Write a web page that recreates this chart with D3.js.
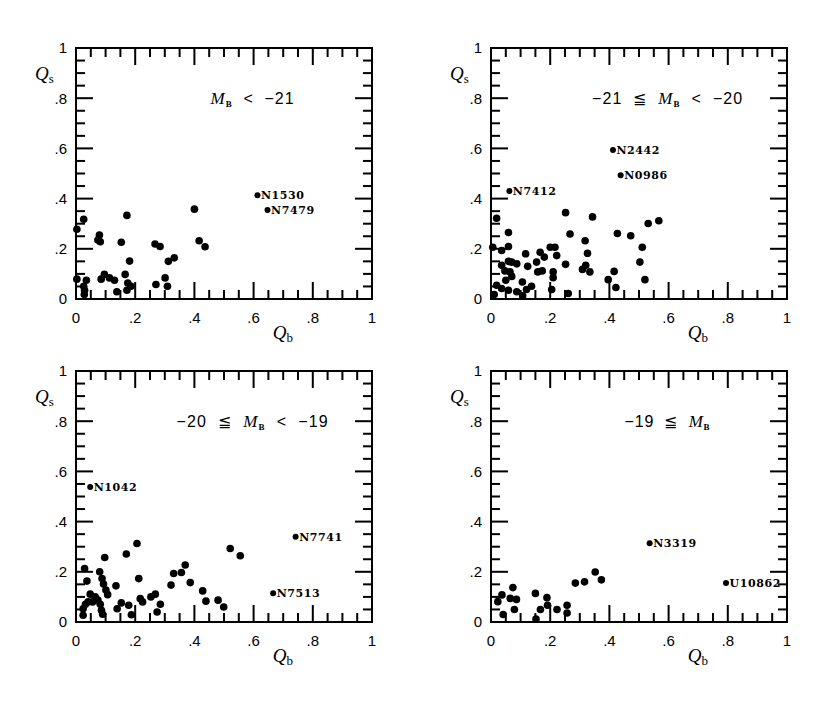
<!DOCTYPE html>
<html>
<head>
<meta charset="utf-8">
<script src="https://cdn.jsdelivr.net/npm/d3@7"></script>
</head>
<body>
<script>
'use strict';

// Q_b, Q_s pairs, brightest bin first
const bin1Points = [
    [0.003, 0.278], [0.026, 0.318], [0.003, 0.079], [0.035, 0.075], [0.026, 0.051], [0.029, 0.035],
    [0.028, 0.018], [0.079, 0.255], [0.074, 0.235], [0.082, 0.228], [0.085, 0.079], [0.096, 0.098],
    [0.113, 0.084], [0.130, 0.075], [0.138, 0.029], [0.153, 0.226], [0.172, 0.333], [0.181, 0.151],
    [0.166, 0.098], [0.175, 0.064], [0.186, 0.051], [0.172, 0.035], [0.267, 0.219], [0.284, 0.209],
    [0.270, 0.058], [0.301, 0.084], [0.309, 0.051], [0.312, 0.150], [0.332, 0.164], [0.400, 0.358],
    [0.416, 0.232], [0.436, 0.208]
];
const bin2Points = [
    [0.019, 0.322], [0.059, 0.265], [0.006, 0.206], [0.059, 0.209], [0.036, 0.193], [0.036, 0.134],
    [0.059, 0.150], [0.070, 0.147], [0.087, 0.140], [0.047, 0.112], [0.064, 0.108], [0.070, 0.090],
    [0.050, 0.075], [0.019, 0.055], [0.036, 0.042], [0.059, 0.035], [0.011, 0.018], [0.087, 0.029],
    [0.106, 0.068], [0.107, 0.013], [0.120, 0.038], [0.137, 0.051], [0.117, 0.180], [0.124, 0.130],
    [0.154, 0.147], [0.166, 0.186], [0.180, 0.167], [0.158, 0.108], [0.173, 0.112], [0.200, 0.206],
    [0.216, 0.206], [0.222, 0.173], [0.210, 0.108], [0.210, 0.085], [0.205, 0.038], [0.252, 0.344],
    [0.267, 0.259], [0.252, 0.138], [0.261, 0.022], [0.318, 0.232], [0.326, 0.182], [0.309, 0.118],
    [0.320, 0.134], [0.334, 0.108], [0.343, 0.327], [0.396, 0.077], [0.416, 0.110], [0.422, 0.046],
    [0.427, 0.261], [0.472, 0.252], [0.511, 0.206], [0.503, 0.147], [0.520, 0.077], [0.531, 0.301],
    [0.567, 0.312]
];
const bin3Points = [
    [0.029, 0.213], [0.037, 0.163], [0.024, 0.053], [0.024, 0.027], [0.032, 0.071], [0.041, 0.080],
    [0.048, 0.111], [0.056, 0.080], [0.065, 0.100], [0.074, 0.087], [0.082, 0.071], [0.086, 0.047],
    [0.090, 0.031], [0.080, 0.200], [0.088, 0.173], [0.093, 0.151], [0.101, 0.127], [0.107, 0.109],
    [0.097, 0.257], [0.135, 0.144], [0.139, 0.053], [0.153, 0.076], [0.178, 0.067], [0.187, 0.029],
    [0.170, 0.271], [0.206, 0.313], [0.212, 0.173], [0.217, 0.093], [0.225, 0.080], [0.253, 0.100],
    [0.268, 0.111], [0.285, 0.071], [0.274, 0.040], [0.321, 0.147], [0.330, 0.193], [0.356, 0.197],
    [0.369, 0.227], [0.386, 0.157], [0.428, 0.124], [0.439, 0.083], [0.480, 0.087], [0.499, 0.060],
    [0.521, 0.293], [0.555, 0.264]
];
const bin4Points = [
    [0.023, 0.081], [0.037, 0.108], [0.041, 0.030], [0.065, 0.094], [0.074, 0.137], [0.079, 0.050],
    [0.086, 0.090], [0.150, 0.114], [0.152, 0.012], [0.167, 0.050], [0.189, 0.097], [0.191, 0.067],
    [0.223, 0.050], [0.257, 0.067], [0.257, 0.036], [0.285, 0.155], [0.316, 0.160], [0.352, 0.199],
    [0.373, 0.168]
];

// named galaxies: [Q_b, Q_s, name]
const bin1Named = [[0.613, 0.413, "N1530"], [0.647, 0.355, "N7479"]];
const bin2Named = [[0.412, 0.594, "N2442"], [0.438, 0.493, "N0986"], [0.062, 0.430, "N7412"]];
const bin3Named = [[0.048, 0.538, "N1042"], [0.742, 0.340, "N7741"], [0.666, 0.115, "N7513"]];
const bin4Named = [[0.536, 0.314, "N3319"], [0.794, 0.155, "U10862"]];

// magnitude bin captions, text before and after "M_B"
const binBefore = ["", "\u221221  \u2266  ", "\u221220  \u2266  ", "\u221219  \u2266  "];
const binAfter = ["  <  \u221221", "  <  \u221220", "  <  \u221219", ""];

const tickValues = [0, 0.2, 0.4, 0.6, 0.8, 1];
const tickLabels = ["0", ".2", ".4", ".6", ".8", "1"];
const minorValues = [0.05, 0.1, 0.15, 0.25, 0.3, 0.35, 0.45, 0.5, 0.55, 0.65, 0.7, 0.75, 0.85, 0.9, 0.95];

(function () {
    const W = 296;
    const H = 251;
    // body keeps its default 8px margin, so panel origins are shifted back by 8
    const origins = [[68, 40], [483, 40], [68, 363], [483, 363]];
    const captionWidth = [83, 150, 151, 85];

    const points = [bin1Points, bin2Points, bin3Points, bin4Points];
    const named = [bin1Named, bin2Named, bin3Named, bin4Named];

    const svg = d3.select("body").append("svg")
        .attr("width", 822)
        .attr("height", 706);

    const x = d3.scaleLinear().domain([0, 1]).range([0, W]);
    const y = d3.scaleLinear().domain([0, 1]).range([H, 0]);

    const ticks = tickValues.map(function (v) { return { v: v, len: 17 }; })
        .concat(minorValues.map(function (v) { return { v: v, len: 9 }; }));

    origins.forEach(function (o, i) {
        const g = svg.append("g").attr("transform", "translate(" + o[0] + "," + o[1] + ")");

        // frame and inward ticks on all four sides, as filled bars
        g.append("rect").attr("width", W).attr("height", H)
            .attr("fill", "none").attr("stroke", "#000").attr("stroke-width", 2);
        g.selectAll("rect.tb").data(ticks).enter().append("rect").attr("class", "tb")
            .attr("x", function (d) { return x(d.v) - 1; })
            .attr("y", function (d) { return H - d.len; })
            .attr("width", 2).attr("height", function (d) { return d.len; })
            .attr("fill", "black");
        g.selectAll("rect.tt").data(ticks).enter().append("rect").attr("class", "tt")
            .attr("x", function (d) { return x(d.v) - 1; })
            .attr("y", 0)
            .attr("width", 2).attr("height", function (d) { return d.len; })
            .attr("fill", "black");
        g.selectAll("rect.tl").data(ticks).enter().append("rect").attr("class", "tl")
            .attr("x", 0)
            .attr("y", function (d) { return y(d.v) - 1; })
            .attr("width", function (d) { return d.len; }).attr("height", 2)
            .attr("fill", "black");
        g.selectAll("rect.tr").data(ticks).enter().append("rect").attr("class", "tr")
            .attr("x", function (d) { return W - d.len; })
            .attr("y", function (d) { return y(d.v) - 1; })
            .attr("width", function (d) { return d.len; }).attr("height", 2)
            .attr("fill", "black");

        // tick labels
        g.selectAll("text.xl").data(tickValues).enter().append("text").attr("class", "xl")
            .attr("x", function (d) { return x(d); })
            .attr("y", H + 24)
            .attr("text-anchor", "middle")
            .style("font-family", "'Liberation Sans', sans-serif")
            .style("font-size", "15px")
            .text(function (d, j) { return tickLabels[j]; });
        g.selectAll("text.yl").data(tickValues).enter().append("text").attr("class", "yl")
            .attr("x", -9)
            .attr("y", function (d) { return y(d); })
            .attr("dy", "0.36em")
            .attr("text-anchor", "end")
            .style("font-family", "'Liberation Sans', sans-serif")
            .style("font-size", "15px")
            .text(function (d, j) { return tickLabels[j]; });

        // dots
        g.selectAll("circle.pt")
            .data(points[i])
            .enter()
            .append("circle")
            .attr("class", "pt")
            .attr("cx", function (d) { return x(d[0]); })
            .attr("cy", function (d) { return y(d[1]); })
            .attr("r", 3.8)
            .attr("fill", "#000");

        const ng = g.selectAll("g.named")
            .data(named[i])
            .enter()
            .append("g")
            .attr("class", "named")
            .attr("transform", function (d) { return "translate(" + x(d[0]) + "," + y(d[1]) + ")"; });
        ng.append("circle").attr("r", 3).attr("fill", "#000");
        ng.append("text")
            .attr("x", 3.5)
            .attr("dy", "0.36em")
            .style("font-family", "'DejaVu Serif', serif")
            .style("font-size", "11px")
            .style("font-weight", "bold")
            .style("letter-spacing", "0.6px")
            .text(function (d) { return d[2]; });

        // magnitude bin caption
        const cap = g.append("text")
            .attr("x", x(0.595))
            .attr("y", 56)
            .attr("text-anchor", "middle")
            .attr("textLength", captionWidth[i])
            .attr("lengthAdjust", "spacing")
            .style("font-family", "'Liberation Sans', sans-serif")
            .style("font-size", "16px")
            .style("white-space", "pre");
        cap.append("tspan").text(binBefore[i]);
        cap.append("tspan").style("font-family", "'Liberation Serif', serif")
            .style("font-style", "italic").style("font-size", "17px").text("M");
        cap.append("tspan").attr("dy", 3).style("font-size", "9px")
            .style("font-weight", "bold").style("font-family", "'Liberation Serif', serif").text("B");
        cap.append("tspan").attr("dy", -3).text(binAfter[i]);

        // axis titles
        const qs = g.append("text")
            .attr("x", -41).attr("y", 32)
            .style("font-family", "'Liberation Serif', serif")
            .style("font-size", "19px");
        qs.append("tspan").style("font-style", "italic").text("Q");
        qs.append("tspan").attr("dy", 3).style("font-size", "13px").text("s");

        const qb = g.append("text")
            .attr("x", x(0.665)).attr("y", H + 40)
            .style("font-family", "'Liberation Serif', serif")
            .style("font-size", "19px");
        qb.append("tspan").style("font-style", "italic").text("Q");
        qb.append("tspan").attr("dy", 3).style("font-size", "13px").text("b");
    });
})();
</script>
</body>
</html>
